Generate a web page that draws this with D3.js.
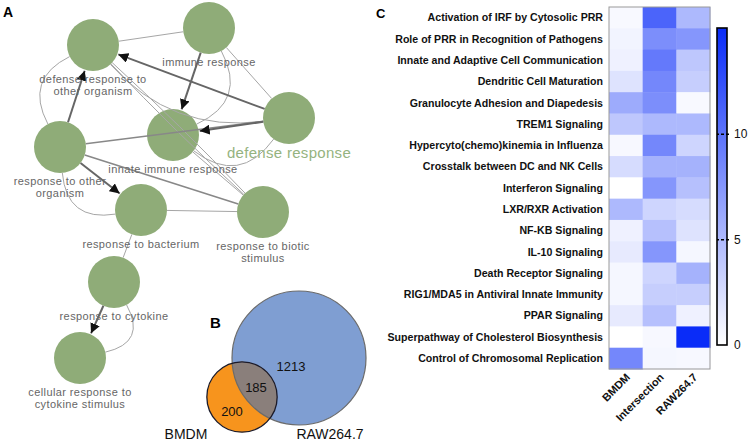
<!DOCTYPE html>
<html>
<head>
<meta charset="utf-8">
<style>
  body { margin: 0; background: #fff; }
  svg { font-family: Arial, 'Liberation Sans', sans-serif; }
  .node-label { fill: #666; font-size: 11px; letter-spacing: 0.4px; }
  .row-label { font-size: 10.6px; font-weight: bold; fill: #111; }
  .col-label { font-size: 11px; font-weight: bold; fill: #111; }
  .cbar .domain { display: none; }
  .cbar .tick line { stroke: #000; stroke-width: 1.5; stroke-dasharray: 3,2; }
  .cbar .tick text { font-size: 12px; fill: #111; }
</style>
</head>
<body>
<svg width="750" height="443"></svg>
<script src="https://cdnjs.cloudflare.com/ajax/libs/d3/7.8.5/d3.min.js"></script>
<script>
  // ---- data ----
  var termNames = ["defense response to other organism", "immune response", "defense response",
    "innate immune response", "response to other organism", "response to bacterium",
    "response to biotic stimulus", "response to cytokine", "cellular response to cytokine stimulus"];
  // edges: [source, target, directed, bend, weight]
  var termEdges = [
    [0, 4, false, 55, 1], [1, 3, false, -60, 1], [0, 2, false, 55, 1], [3, 2, false, 60, 1],
    [4, 5, false, 55, 1], [7, 8, false, -55, 1],
    [0, 1, false, 0, 1], [1, 2, false, 0, 1], [0, 6, false, 4, 1], [0, 6, false, -4, 1],
    [3, 6, false, 0, 1], [5, 6, false, 0, 1], [5, 7, false, 0, 1],
    [4, 2, false, 0, 1.4], [4, 6, false, 0, 1.6],
    [1, 3, true, 0, 2], [2, 0, true, 0, 2], [2, 3, true, 0, 2], [4, 0, true, 0, 2],
    [4, 5, true, 0, 2], [7, 8, true, 0, 2]
  ];

  var vennSets = ["BMDM", "RAW264.7"];
  var vennCounts = [200, 185, 1213]; // BMDM only, both, RAW264.7 only

  var pathways = ["Activation of IRF by Cytosolic PRR", "Role of PRR in Recognition of Pathogens",
    "Innate and Adaptive Cell Communication", "Dendritic Cell Maturation",
    "Granulocyte Adhesion and Diapedesis", "TREM1 Signaling",
    "Hypercyto(chemo)kinemia in Influenza", "Crosstalk between DC and NK Cells",
    "Interferon Signaling", "LXR/RXR Activation", "NF-KB Signaling", "IL-10 Signaling",
    "Death Receptor Signaling", "RIG1/MDA5 in Antiviral Innate Immunity", "PPAR Signaling",
    "Superpathway of Cholesterol Biosynthesis", "Control of Chromosomal Replication"];
  var groups = ["BMDM", "Intersection", "RAW264.7"];
  var bmdmScores =  [0.4, 0.8, 1, 2, 6, 4, 0.5, 2.5, 0, 5, 1, 1.5, 0.6, 0.6, 1.5, 0, 8.5];
  var interScores = [11, 8, 9.5, 8.5, 8, 5, 8.5, 5.5, 7.5, 3, 4.5, 7.5, 3, 3.5, 4.5, 0.5, 0.6];
  var rawScores =   [5, 7.5, 4, 3.5, 0.4, 5, 3, 5.5, 4.5, 2.5, 2, 0.6, 5.5, 3.5, 1, 15, 0.5];
  var cbarTicks = [0, 5, 10];

  var svg = d3.select("svg");

  // ---- panel letters ----
  svg.append("text").attr("x", 3).attr("y", 17).attr("font-size", 14).attr("font-weight", "bold").text("A");
  svg.append("text").attr("x", 210).attr("y", 328).attr("font-size", 15).attr("font-weight", "bold").text("B");
  svg.append("text").attr("x", 376).attr("y", 18).attr("font-size", 13).attr("font-weight", "bold").text("C");

  // ---- A: term network ----
  var layout = [[93, 45], [209, 28], [289, 118], [173, 135], [60, 147],
                [141, 210], [263, 212], [114, 282], [80, 358]];
  var nodeR = 26;
  var nodes = termNames.map(function(n, i) { return {name: n, x: layout[i][0], y: layout[i][1]}; });

  svg.append("defs").append("marker")
    .attr("id", "arrow").attr("viewBox", "0 0 10 10").attr("refX", 10).attr("refY", 5)
    .attr("markerWidth", 5).attr("markerHeight", 5).attr("orient", "auto")
    .append("path").attr("d", "M0,0L10,5L0,10z").attr("fill", "#111");

  var net = svg.append("g");
  net.selectAll("circle").data(nodes).enter().append("circle")
    .attr("cx", function(d) { return d.x; }).attr("cy", function(d) { return d.y; })
    .attr("r", nodeR).attr("fill", "#8fac78");

  function edgePath(e) {
    var s = nodes[e[0]], t = nodes[e[1]];
    var dx = t.x - s.x, dy = t.y - s.y, len = Math.sqrt(dx * dx + dy * dy);
    var cx = (s.x + t.x) / 2 - dy / len * e[3], cy = (s.y + t.y) / 2 + dx / len * e[3];
    function border(n, px, py, extra) {
      var ux = px - n.x, uy = py - n.y, l = Math.sqrt(ux * ux + uy * uy);
      return [n.x + ux / l * (nodeR + extra), n.y + uy / l * (nodeR + extra)];
    }
    var a = border(s, cx, cy, 0), b = border(t, cx, cy, e[2] ? 1 : 0);
    var p = d3.path();
    p.moveTo(a[0], a[1]);
    p.quadraticCurveTo(cx, cy, b[0], b[1]);
    return p.toString();
  }

  net.selectAll("path.edge").data(termEdges).enter().append("path")
    .attr("class", "edge")
    .attr("d", edgePath)
    .attr("fill", "none")
    .attr("stroke", function(e) { return e[2] ? "#666" : (e[4] > 1 ? "#888" : "#a6a6a6"); })
    .attr("stroke-width", function(e) { return e[4]; })
    .attr("marker-end", function(e) { return e[2] ? "url(#arrow)" : null; });

  var labelLines = {
    0: ["defense response to", "other organism"], 4: ["response to other", "organism"],
    6: ["response to biotic", "stimulus"], 8: ["cellular response to", "cytokine stimulus"]
  };
  nodes.forEach(function(n, i) {
    if (i === 2) {
      net.append("text").attr("x", n.x).attr("y", n.y + 40).attr("text-anchor", "middle")
        .attr("font-size", 15).attr("fill", "#95b380").attr("letter-spacing", 0.3).text(n.name);
      return;
    }
    var lines = labelLines[i] || [n.name];
    var t = net.append("text").attr("class", "node-label").attr("text-anchor", "middle");
    lines.forEach(function(l, j) {
      t.append("tspan").attr("x", n.x).attr("y", n.y + 38 + j * 12).text(l);
    });
  });

  // ---- B: venn ----
  var totals = [vennCounts[0] + vennCounts[1], vennCounts[1] + vennCounts[2]];
  var rScale = d3.scaleSqrt().domain([0, d3.max(totals)]).range([0, 67]);
  var vc = [[242, 397], [299, 358]];
  var venn = svg.append("g");
  venn.append("clipPath").attr("id", "rawclip").append("circle")
    .attr("cx", vc[1][0]).attr("cy", vc[1][1]).attr("r", rScale(totals[1]));
  venn.append("circle").attr("cx", vc[1][0]).attr("cy", vc[1][1]).attr("r", rScale(totals[1]))
    .attr("fill", "#7f9ed2");
  venn.append("circle").attr("cx", vc[0][0]).attr("cy", vc[0][1]).attr("r", rScale(totals[0]))
    .attr("fill", "#f7941d");
  venn.append("circle").attr("cx", vc[0][0]).attr("cy", vc[0][1]).attr("r", rScale(totals[0]))
    .attr("fill", "#8a7f7b").attr("clip-path", "url(#rawclip)");
  venn.append("circle").attr("cx", vc[1][0]).attr("cy", vc[1][1]).attr("r", rScale(totals[1]))
    .attr("fill", "none").attr("stroke", "#6b6b6b").attr("stroke-width", 1.2);
  venn.append("circle").attr("cx", vc[0][0]).attr("cy", vc[0][1]).attr("r", rScale(totals[0]))
    .attr("fill", "none").attr("stroke", "#1a1a2a").attr("stroke-width", 1.3);
  var countPos = [[232, 416], [256, 392], [291, 371]];
  venn.selectAll("text.count").data(vennCounts).enter().append("text")
    .attr("class", "count").attr("text-anchor", "middle").attr("font-size", 13).attr("fill", "#111")
    .attr("x", function(d, i) { return countPos[i][0]; }).attr("y", function(d, i) { return countPos[i][1]; })
    .text(function(d) { return d; });
  var setPos = [[186, 439], [330, 439]];
  venn.selectAll("text.set").data(vennSets).enter().append("text")
    .attr("class", "set").attr("text-anchor", "middle").attr("font-size", 14).attr("fill", "#111")
    .attr("x", function(d, i) { return setPos[i][0]; }).attr("y", function(d, i) { return setPos[i][1]; })
    .text(function(d) { return d; });

  // ---- C: heatmap ----
  var hm = {left: 609, top: 7, width: 101, height: 362};
  var x = d3.scaleBand().domain(groups).range([hm.left, hm.left + hm.width]);
  var y = d3.scaleBand().domain(pathways).range([hm.top, hm.top + hm.height]);
  var color = d3.scaleLinear().domain([0, 15]).range(["#ffffff", "#0a2cf8"]);

  var cells = [];
  pathways.forEach(function(p, i) {
    [bmdmScores, interScores, rawScores].forEach(function(arr, j) {
      cells.push({row: p, col: groups[j], v: arr[i]});
    });
  });

  var heat = svg.append("g");
  heat.selectAll("rect.cell").data(cells).enter().append("rect")
    .attr("class", "cell")
    .attr("x", function(d) { return x(d.col); }).attr("y", function(d) { return y(d.row); })
    .attr("width", x.bandwidth() + 0.5).attr("height", y.bandwidth() + 0.5)
    .attr("fill", function(d) { return color(d.v); });
  heat.append("rect").attr("x", hm.left).attr("y", hm.top).attr("width", hm.width).attr("height", hm.height)
    .attr("fill", "none").attr("stroke", "#999").attr("stroke-width", 1);

  heat.selectAll("text.row-label").data(pathways).enter().append("text")
    .attr("class", "row-label").attr("text-anchor", "end")
    .attr("x", hm.left - 6).attr("y", function(d) { return y(d) + y.bandwidth() / 2; })
    .attr("dy", "0.35em").text(function(d) { return d; });

  heat.selectAll("text.col-label").data(groups).enter().append("text")
    .attr("class", "col-label").attr("text-anchor", "end")
    .attr("transform", function(d) {
      return "translate(" + (x(d) + x.bandwidth() / 2 + 5) + "," + (hm.top + hm.height + 9) + ") rotate(-45)";
    })
    .text(function(d) { return d; });

  // colour bar
  var cb = {x: 717, w: 10, top: 28, bottom: 345};
  var cy = d3.scaleLinear().domain([0, 15]).range([cb.bottom, cb.top]);
  var grad = svg.select("defs").append("linearGradient").attr("id", "cbgrad")
    .attr("x1", 0).attr("y1", 1).attr("x2", 0).attr("y2", 0);
  grad.selectAll("stop").data([0, 0.25, 0.5, 0.75, 1]).enter().append("stop")
    .attr("offset", function(d) { return d; })
    .attr("stop-color", function(d) { return color(d * 15); });
  svg.append("rect").attr("x", cb.x).attr("y", cb.top).attr("width", cb.w).attr("height", cb.bottom - cb.top)
    .attr("fill", "url(#cbgrad)").attr("stroke", "#000").attr("stroke-width", 1.6);
  svg.append("g").attr("class", "cbar")
    .attr("transform", "translate(" + (cb.x + cb.w + 2) + ",0)")
    .call(d3.axisRight(cy).tickValues(cbarTicks.slice(1)).tickSize(-12).tickPadding(5));
  svg.append("text").attr("x", cb.x + cb.w + 7).attr("y", cy(0)).attr("dy", "0.35em")
    .attr("font-size", 12).attr("fill", "#111").text(cbarTicks[0]);
</script>
</body>
</html>
